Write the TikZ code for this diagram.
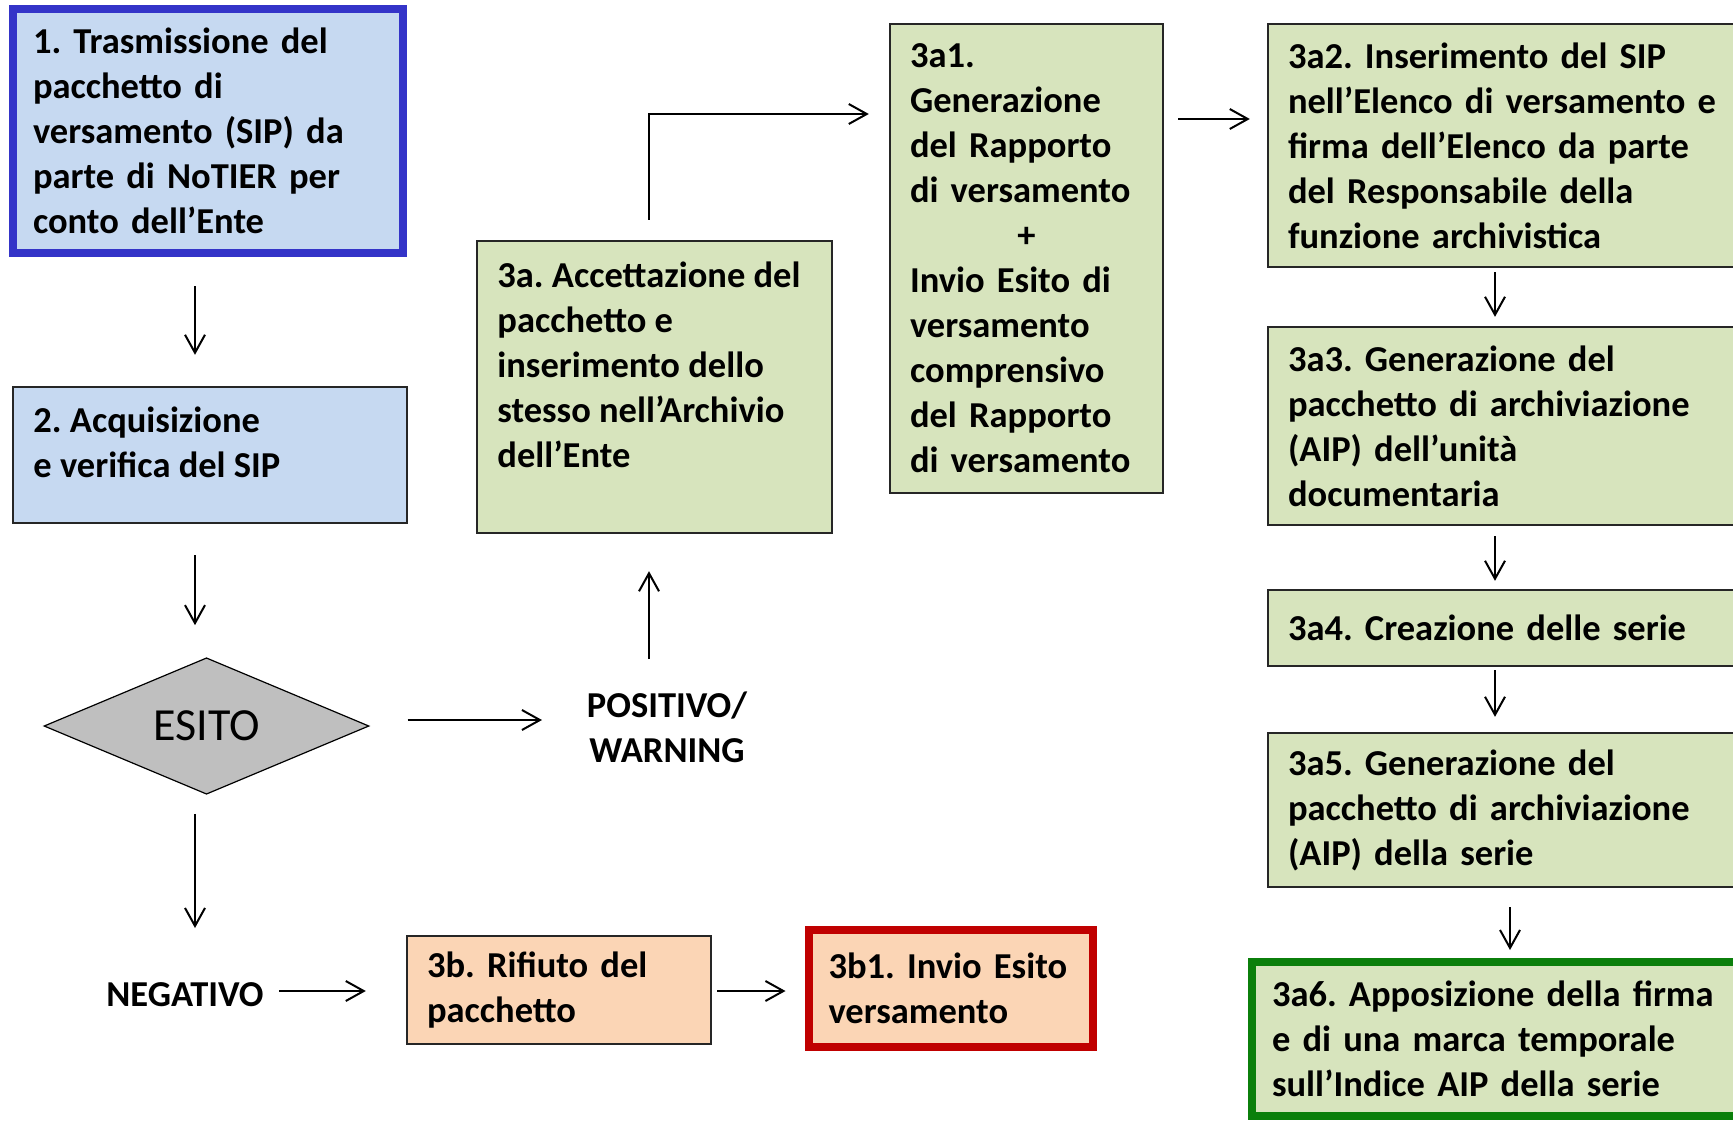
\documentclass[tikz,border=0pt]{standalone}
\usepackage{fontspec}
\setmainfont{Carlito}
\usetikzlibrary{arrows.meta,shapes.geometric,calc}
\frenchspacing
\hyphenpenalty=10000
\exhyphenpenalty=10000

\definecolor{bluefill}{HTML}{C6D9F1}
\definecolor{blueline}{HTML}{3434C8}
\definecolor{greenfill}{HTML}{D7E4BD}
\definecolor{orangefill}{HTML}{FBD5B5}
\definecolor{redline}{HTML}{C00000}
\definecolor{greenline}{HTML}{0B7F0B}
\definecolor{boxline}{HTML}{262626}
\definecolor{diamondfill}{HTML}{BFBFBF}

\tikzset{
  lbl/.style={font=\fontsize{18.25}{22.5}\selectfont\bfseries, text=black},
  box/.style={lbl, rectangle, draw=boxline, line width=1.2pt,
    inner xsep=10pt, inner ysep=0pt, align=left},
  thickbox/.style={box, line width=4pt},
  plain/.style={lbl, inner sep=0pt, align=left},
  arr/.style={line width=1pt, -{Straight Barb[length=9pt,width=10pt,line width=1pt]}},
}

\begin{document}
\begin{tikzpicture}[x=0.5pt,y=-0.5pt]
\useasboundingbox (0,0) rectangle (1733,1120);

% left column
\node[thickbox, draw=blueline, fill=bluefill, text width=175pt, minimum height=122pt]
  (n1) at (208,131)
  {1. Trasmissione del\\pacchetto di\\versamento (SIP) da\\parte di NoTIER per\\conto dell’Ente};

\node[box, fill=bluefill, text width=177pt, minimum height=68pt] (n2) at (210,455) {};
\node[plain, anchor=west] (t2) at (33,442) {2. Acquisizione\\e verifica del SIP};

\node[diamond, draw=black, line width=0.6pt, fill=diamondfill, inner sep=0pt,
  minimum width=162.5pt, minimum height=66pt,
  font=\fontsize{23}{27}\selectfont, text=black] (es) at (206.5,726) {ESITO};

\node[lbl, align=center] (pos) at (667,727) {POSITIVO/\\WARNING};
\node[lbl] (neg) at (185,995) {NEGATIVO};

% negative branch
\node[box, fill=orangefill, text width=132pt, minimum height=54pt] (b3) at (559,990)
  {3b. Rifiuto del\\pacchetto};
\node[thickbox, draw=redline, fill=orangefill, text width=122pt,
  minimum height=58.5pt] (b31) at (950.5,988) {3b1. Invio Esito\\versamento};

% positive branch
\node[box, fill=greenfill, text width=157.5pt, minimum height=146pt] (a3) at (654.5,387) {};
\node[plain, anchor=north west] (t3) at (497,261)
  {3a. Accettazione del\\pacchetto e\\inserimento dello\\stesso nell’Archivio\\dell’Ente};

\node[box, fill=greenfill, text width=116.5pt, minimum height=234.5pt] (a31) at (1026.5,258.5)
  {3a1.\\Generazione\\del Rapporto\\di versamento\\\hfill+\hfill\null\\Invio Esito di\\versamento\\comprensivo\\del Rapporto\\di versamento};

\node[box, fill=greenfill, text width=218.5pt, minimum height=121.5pt] (a32) at (1506.5,145.5)
  {3a2. Inserimento del SIP\\nell’Elenco di versamento e\\firma dell’Elenco da parte\\del Responsabile della\\funzione archivistica};
\node[box, fill=greenfill, text width=218.5pt, minimum height=99pt] (a33) at (1506.5,426)
  {3a3. Generazione del\\pacchetto di archiviazione\\(AIP) dell’unità\\documentaria};
\node[box, fill=greenfill, text width=218.5pt, minimum height=38pt] (a34) at (1506.5,628)
  {3a4. Creazione delle serie};
\node[box, fill=greenfill, text width=218.5pt, minimum height=77pt] (a35) at (1506.5,810)
  {3a5. Generazione del\\pacchetto di archiviazione\\(AIP) della serie};
\node[thickbox, draw=greenline, fill=greenfill, text width=229pt, minimum height=77pt]
  (a36) at (1501,1039)
  {3a6. Apposizione della firma\\e di una marca temporale\\sull’Indice AIP della serie};

% connectors
\draw[arr] ($(n1.south)+(-13,29)$) -- ($(n2.north)+(-15,-31)$);
\draw[arr] ($(n2.south)+(-15,31)$) -- ($(es.north)+(-11.5,-32)$);
\draw[arr] ($(es.east)+(38,-6)$) -- ($(pos.center)+(-125,-7)$);
\draw[arr] ($(es.south)+(-11.5,19)$) -- ($(neg.center)+(10,-67)$);
\draw[arr] ($(neg.center)+(94,-4)$) -- ($(b3.west)+(-40,1)$);
\draw[arr] ($(b3.east)+(5,1)$) -- ($(b31.west)+(-19,3)$);
\draw[arr] ($(pos.center)+(-18,-68)$) -- ($(a3.south)+(-5.5,37)$);
\draw[arr] ($(a3.north)+(-5.5,-20)$) |- ($(a31.west)+(-20,-144.5)$);
\draw[arr] ($(a31.east)+(14,-139.5)$) -- ($(a32.west)+(-17,-26.5)$);
\draw[arr] ($(a32.south)+(-11.5,4)$) -- ($(a33.north)+(-11.5,-9)$);
\draw[arr] ($(a33.south)+(-11.5,10)$) -- ($(a34.north)+(-11.5,-8)$);
\draw[arr] ($(a34.south)+(-11.5,3)$) -- ($(a35.north)+(-11.5,-15)$);
\draw[arr] ($(a35.south)+(3.5,19)$) -- ($(a36.north)+(9,-8)$);
\end{tikzpicture}
\end{document}
